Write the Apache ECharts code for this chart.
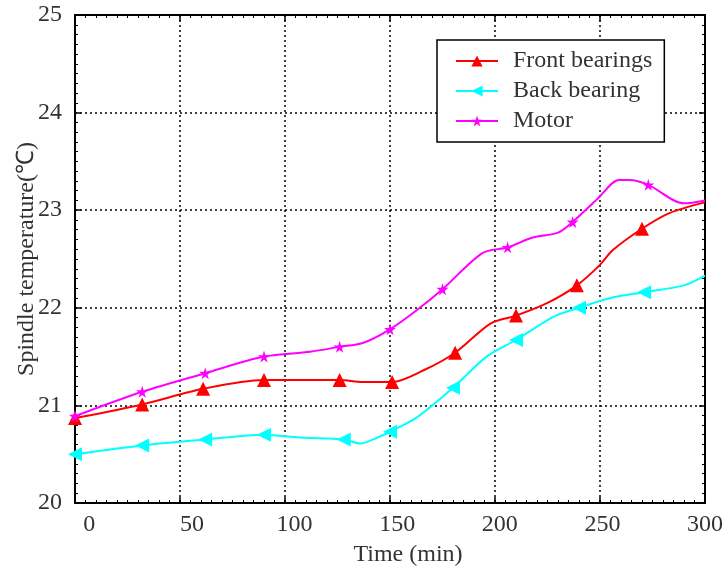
<!DOCTYPE html>
<html>
<head>
<meta charset="utf-8">
<script src="https://cdn.jsdelivr.net/npm/echarts@6/dist/echarts.min.js"></script>
<style>
html,body{margin:0;padding:0;background:#fff;}
#chart{width:725px;height:572px;}
</style>
</head>
<body>
<div id="chart"></div>
<script>
// ---- data ----
const xTicks = [0, 50, 100, 150, 200, 250, 300];
const yTicks = [20, 21, 22, 23, 24, 25];

// interpolated curves
const frontTime = [0, 32, 61, 90, 126, 137, 151, 166, 181, 198, 210, 225, 239, 250, 256, 270, 283, 300];
const frontTemp = [20.87, 21.01, 21.17, 21.26, 21.26, 21.24, 21.24, 21.36, 21.54, 21.84, 21.92, 22.05, 22.23, 22.44, 22.59, 22.81, 22.97, 23.08];
const backTime = [0, 32, 62, 90, 107, 128, 136, 144, 150, 163, 180, 196, 210, 228, 240, 255, 271, 290, 300];
const backTemp = [20.50, 20.59, 20.65, 20.70, 20.67, 20.65, 20.61, 20.67, 20.73, 20.88, 21.18, 21.50, 21.67, 21.91, 22.00, 22.10, 22.16, 22.23, 22.33];
const motorTime = [0, 32, 62, 90, 112, 126, 137, 150, 163, 175, 194, 206, 218, 230, 237, 249, 259, 264, 273, 290, 300];
const motorTemp = [20.89, 21.14, 21.33, 21.50, 21.55, 21.60, 21.64, 21.78, 21.98, 22.19, 22.56, 22.62, 22.72, 22.77, 22.88, 23.12, 23.31, 23.31, 23.26, 23.07, 23.10];

// marked sample points
const frontMarkTime = [0, 32, 61, 90, 126, 151, 181, 210, 239, 270];
const frontMarkTemp = [20.87, 21.01, 21.17, 21.26, 21.26, 21.24, 21.54, 21.92, 22.23, 22.81];
const backMarkTime = [0, 32, 62, 90, 128, 150, 180, 210, 240, 271];
const backMarkTemp = [20.50, 20.59, 20.65, 20.70, 20.65, 20.73, 21.18, 21.67, 22.00, 22.16];
const motorMarkTime = [0, 32, 62, 90, 126, 150, 175, 206, 237, 273];
const motorMarkTemp = [20.89, 21.14, 21.33, 21.50, 21.60, 21.78, 22.19, 22.62, 22.88, 23.26];

const seriesNames = ['Front bearings', 'Back bearing', 'Motor'];
const xName = 'Time (min)';
const yName = 'Spindle temperature(\u2103)';

// ---- build ----
const zip = (a, b) => a.map((v, i) => [v, b[i]]);
const FONT = '"Liberation Serif", "Times New Roman", serif';
const STAR = 'path://M50,0 L61,35 L98,35 L68,57 L79,91 L50,70 L21,91 L32,57 L2,35 L39,35 Z';
const colors = ['#ff0000', '#00ffff', '#ff00ff'];
const curves = [zip(frontTime, frontTemp), zip(backTime, backTemp), zip(motorTime, motorTemp)];
const marks = [zip(frontMarkTime, frontMarkTemp), zip(backMarkTime, backMarkTemp), zip(motorMarkTime, motorMarkTemp)];
const symbols = ['triangle', 'triangle', STAR];
const rotates = [0, 90, 0];
const sizes = [14, 14, 12];

const series = [];
seriesNames.forEach((name, i) => {
  series.push({
    name: name, type: 'line', data: marks[i], z: 4, xAxisIndex: 0, yAxisIndex: 0,
    symbol: symbols[i], symbolRotate: rotates[i], symbolSize: sizes[i],
    itemStyle: {color: colors[i]},
    lineStyle: {color: colors[i], width: 2, opacity: 0},
    emphasis: {disabled: true}, silent: true
  });
});
seriesNames.forEach((name, i) => {
  series.push({
    name: name, type: 'line', data: curves[i], z: 3, xAxisIndex: 0, yAxisIndex: 0,
    symbol: 'none', smooth: 0.3,
    itemStyle: {color: colors[i]},
    lineStyle: {color: colors[i], width: 2},
    emphasis: {disabled: true}, silent: true
  });
});

const gridLine = {show: true, lineStyle: {color: '#000', width: 1.5, type: [2, 3]}};
const axisLine = {show: true, onZero: false, lineStyle: {color: '#000', width: 2}};
const tick = {show: true, inside: true, length: 6, lineStyle: {color: '#000', width: 1.5}};
const minor = {show: true, splitNumber: 10, length: 3, lineStyle: {color: '#000', width: 1}};
const xMin = xTicks[0], xMax = xTicks[xTicks.length - 1], xStep = xTicks[1] - xTicks[0];

const chart = echarts.init(document.getElementById('chart'), null, {renderer: 'canvas'});
chart.setOption({
  animation: false,
  backgroundColor: '#fff',
  grid: {left: 75, right: 20, top: 15, bottom: 69, containLabel: false, outerBoundsMode: 'none'},
  legend: {
    orient: 'vertical', left: 437, top: 40,
    padding: [9, 12, 9, 18], itemGap: 6,
    itemWidth: 42, itemHeight: 14,
    borderColor: '#000', borderWidth: 1.5, backgroundColor: '#fff',
    data: seriesNames,
    lineStyle: {opacity: 1, width: 2},
    textStyle: {fontFamily: FONT, fontSize: 24, color: '#333', padding: [0, 0, 0, 10], lineHeight: 22}
  },
  xAxis: [{
    type: 'value', min: xMin, max: xMax, interval: xStep,
    name: xName, nameLocation: 'middle', nameGap: 40, nameMoveOverlap: false,
    nameTextStyle: {fontFamily: FONT, fontSize: 24, color: '#333', padding: [0, 0, 0, 36]},
    axisLine: axisLine, axisTick: tick, minorTick: minor, splitLine: gridLine,
    axisLabel: {show: false}
  }, {
    type: 'value', position: 'top', min: xMin, max: xMax, interval: xStep,
    axisLine: axisLine, axisTick: tick, minorTick: minor, splitLine: {show: false}, axisLabel: {show: false}
  }, {
    // tick-label row: in the reference the labels sit slightly right of the grid lines
    type: 'value', position: 'bottom', min: -7, max: xMax, splitNumber: 6,
    axisLine: {show: false}, axisTick: {show: false}, splitLine: {show: false},
    axisLabel: {fontFamily: FONT, fontSize: 24, color: '#333', margin: 10,
      showMinLabel: true, showMaxLabel: true,
      formatter: v => (xTicks.indexOf(v) >= 0 ? String(v) : '')}
  }],
  yAxis: [{
    type: 'value', min: yTicks[0], max: yTicks[yTicks.length - 1], interval: yTicks[1] - yTicks[0],
    name: yName, nameLocation: 'middle', nameGap: 36, nameRotate: 90, nameMoveOverlap: false,
    nameTextStyle: {fontFamily: FONT, fontSize: 24, color: '#333'},
    axisLine: axisLine, axisTick: tick, minorTick: minor, splitLine: gridLine,
    axisLabel: {fontFamily: FONT, fontSize: 24, color: '#333', margin: 13}
  }, {
    type: 'value', position: 'right', min: yTicks[0], max: yTicks[yTicks.length - 1], interval: yTicks[1] - yTicks[0],
    axisLine: axisLine, axisTick: tick, minorTick: minor, splitLine: {show: false}, axisLabel: {show: false}
  }],
  series: series
});
</script>
</body>
</html>
